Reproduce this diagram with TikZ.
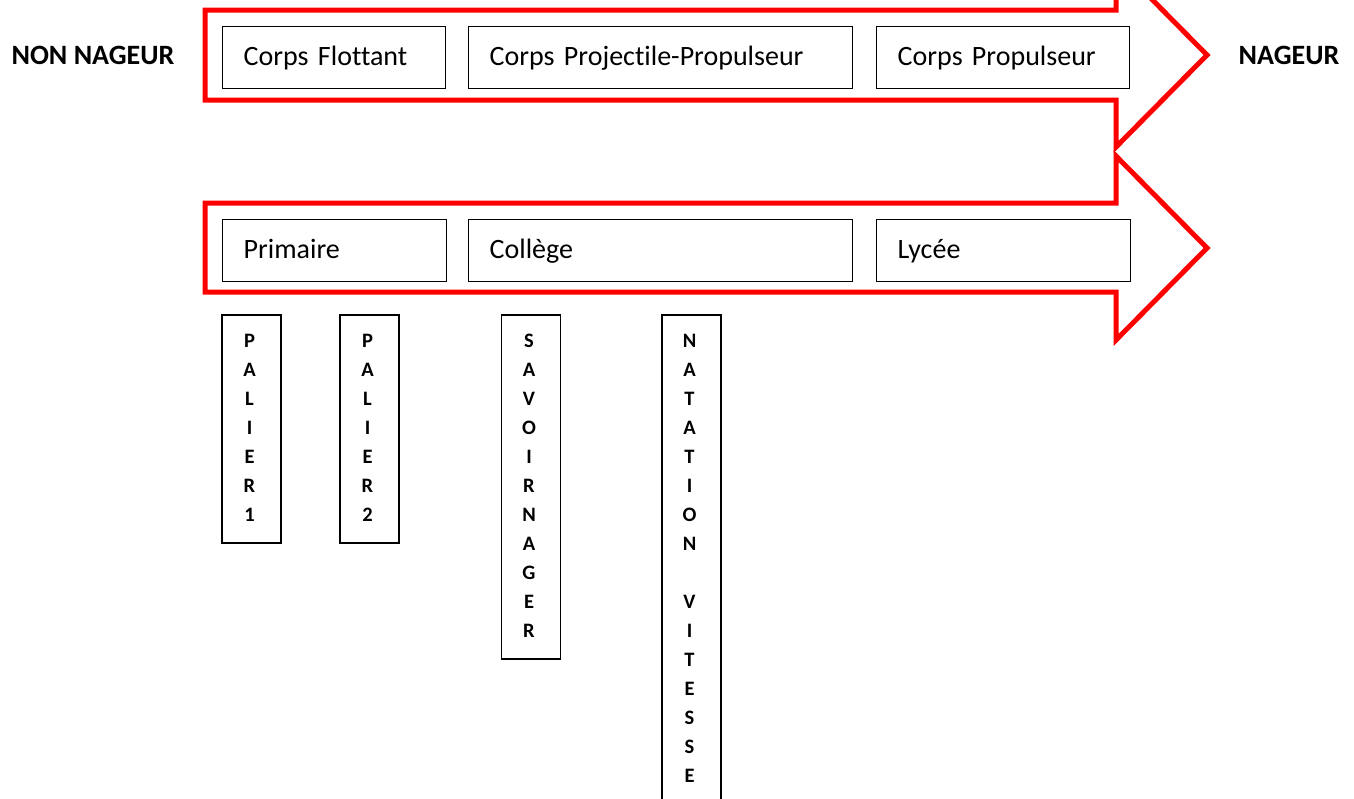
\documentclass[tikz,border=0pt]{standalone}
\usepackage{fontspec}
\setmainfont{Carlito}[Ligatures=NoCommon]
\begin{document}
\begin{tikzpicture}[x=1pt,y=-1pt,
  redarrow/.style={draw=red, line width=5pt, line join=miter},
  hbox/.style={draw=black, line width=1.4pt, minimum height=62pt, inner xsep=21pt, inner ysep=0pt,
    anchor=north west, font=\fontsize{28}{34}\selectfont, text height=21pt, text depth=6pt, align=left},
  vbox/.style={draw=black, line width=1.5pt, minimum width=59pt, anchor=north, inner sep=0pt},
  vtext/.style={anchor=north, inner sep=0pt, font=\bfseries\fontsize{20.5}{29}\selectfont, align=center},
  sidelabel/.style={anchor=base, inner sep=0pt, font=\bfseries\fontsize{28}{34}\selectfont}
]
\useasboundingbox (0,0) rectangle (1354,798);
\fill[white] (0,0) rectangle (1354,798);
% arrows
\draw[redarrow] (205,10) -- (1116,10) -- (1116,-37) -- (1207,55) -- (1116,147) -- (1116,100) -- (205,100) -- cycle;
\draw[redarrow] (205,203) -- (1116,203) -- (1116,156) -- (1207,248) -- (1116,340) -- (1116,292) -- (205,292) -- cycle;
% side labels
\node[sidelabel] (non) at (93,64) {NON NAGEUR};
\node[sidelabel] (nag) at (1289,64) {NAGEUR};
% top boxes
\node[hbox, text width=181pt] (cf) at (222,26) {Corps Flottant};
\node[hbox, text width=342pt] (cpp) at (468,26) {Corps Projectile-Propulseur};
\node[hbox, text width=211pt] (cp) at (876,26) {Corps Propulseur};
% bottom boxes
\node[hbox, text width=182pt] (pri) at (222,219) {Primaire};
\node[hbox, text width=342pt] (col) at (468,219) {Collège};
\node[hbox, text width=212pt] (lyc) at (876,219) {Lycée};
% vertical boxes
\node[vbox, minimum height=228pt] (p1) at (251.5,314) {};
\node[vtext] (p1t) at (249.5,334) {P\\A\\L\\I\\E\\R\\1};
\node[vbox, minimum height=228pt] (p2) at (369.5,314) {};
\node[vtext] (p2t) at (367.5,334) {P\\A\\L\\I\\E\\R\\2};
\node[vbox, minimum height=344pt] (sn) at (531,314) {};
\node[vtext] (snt) at (529,334) {S\\A\\V\\O\\I\\R\\N\\A\\G\\E\\R};
\node[vbox, minimum height=520pt] (nv) at (691.5,314) {};
\node[vtext] (nvt) at (689.5,334) {N\\A\\T\\A\\T\\I\\O\\N\\[29pt]V\\I\\T\\E\\S\\S\\E};
\end{tikzpicture}
\end{document}
